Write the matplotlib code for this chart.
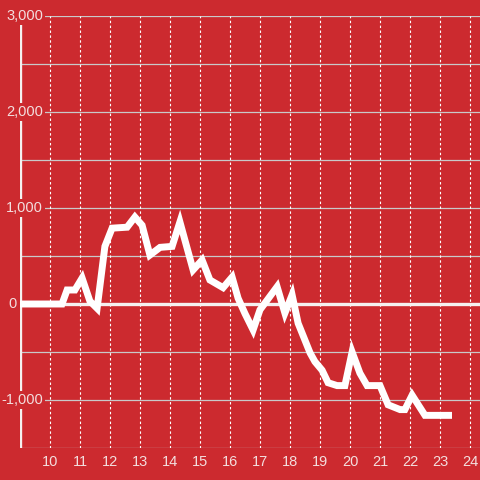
import matplotlib
matplotlib.use('Agg')
import matplotlib.pyplot as plt

# hour of day vs value
hours = [9.0, 10.4, 10.57, 10.83, 11.07, 11.33, 11.57, 11.83, 12.07, 12.57,
         12.83, 13.07, 13.33, 13.67, 14.07, 14.33, 14.77, 15.07, 15.33, 15.77,
         16.07, 16.27, 16.5, 16.77, 17.0, 17.57, 17.83, 18.07, 18.27, 18.67,
         18.83, 19.07, 19.27, 19.57, 19.83, 20.07, 20.33, 20.57, 21.0, 21.27,
         21.67, 21.83, 22.07, 22.5, 23.4]
values = [0, 0, 146, 146, 270, 30, -45, 600, 790, 800,
          906, 820, 510, 590, 600, 855, 355, 458, 250, 170,
          280, 60, -100, -270, -60, 180, -95, 95, -200, -510,
          -600, -690, -820, -850, -850, -500, -720, -850, -850, -1050,
          -1100, -1100, -950, -1160, -1160]

x_ticks = list(range(10, 25))
y_grid = [-1500, -1000, -500, 500, 1000, 1500, 2000, 2500, 3000]
y_labels = {3000: '3,000', 2000: '2,000', 1000: '1,000', 0: '0', -1000: '-1,000'}

bg = '#cc2a2f'
txt = '#f3dede'
plt.rcParams['font.family'] = ['Liberation Sans', 'DejaVu Sans']

fig = plt.figure(figsize=(4.8, 4.8), dpi=100)
fig.patch.set_facecolor(bg)
ax = fig.add_axes([20 / 480, 32 / 480, 460 / 480, 432 / 480])
ax.set_facecolor(bg)
ax.set_xlim(9, 9 + 460 / 30)
ax.set_ylim(-1500, 3000)
for s in ax.spines.values():
    s.set_visible(False)

for y in y_grid:
    ax.axhline(y, color='#c9c9c9', lw=0.9, zorder=1)
for x in x_ticks:
    ax.axvline(x, color='white', lw=0.8, ls=(0, (2.2, 2.2)), zorder=1)
ax.axvline(9, color='#f5f0f0', lw=2.4, zorder=2)
ax.axhline(0, color='#f5f0f0', lw=2.4, zorder=2)

ax.plot(hours, values, color='white', lw=5, solid_joinstyle='miter',
        solid_capstyle='butt', zorder=4)

ax.set_xticks(x_ticks)
ax.set_xticklabels([str(t) for t in x_ticks])
ax.tick_params(axis='x', length=0, pad=5, labelsize=10.5, labelcolor=txt)
ax.set_yticks([])

tr = ax.get_yaxis_transform()
for v, lab in y_labels.items():
    if v == 0:
        xa, ha = (8 - 20) / 460, 'left'
    else:
        xa, ha = (43 - 20) / 460, 'right'
    ax.text(xa, v, lab, transform=tr, ha=ha, va='center', fontsize=10.5,
            color=txt, zorder=6, clip_on=False,
            bbox=dict(facecolor=bg, edgecolor='none', pad=1.5))

fig.savefig('out.png', dpi=100, facecolor=bg)
